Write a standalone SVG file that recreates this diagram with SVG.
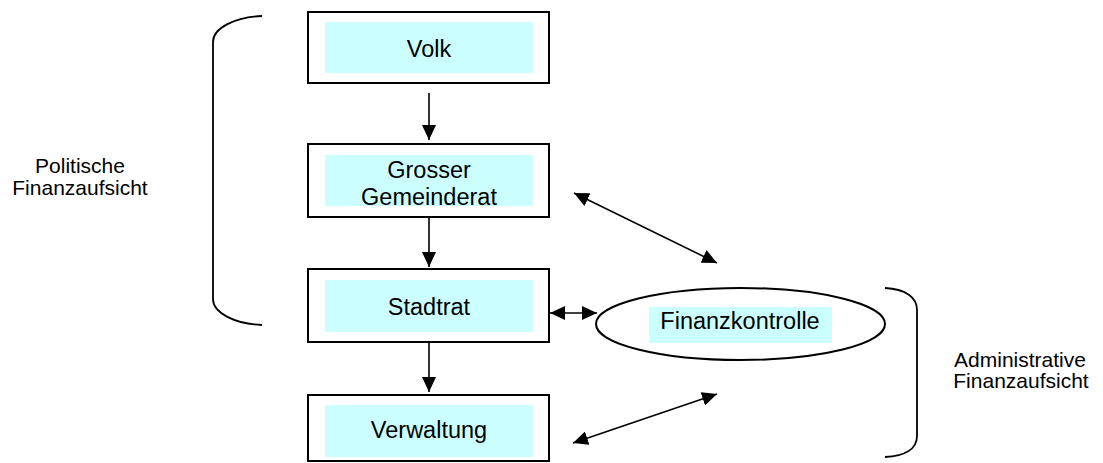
<svg xmlns="http://www.w3.org/2000/svg" width="1103" height="463" viewBox="0 0 1103 463">
<style>
.box{fill:#fff;stroke:#000;stroke-width:2}
.inner{fill:#ccffff;stroke:none}
.t{font-family:"Liberation Sans",Arial,sans-serif;font-size:23.5px;fill:#000;text-anchor:middle}
.s{font-family:"Liberation Sans",Arial,sans-serif;font-size:21px;fill:#000;text-anchor:middle}
.c{stroke:#000;stroke-width:1.6;fill:none}
.br{stroke:#000;stroke-width:1.8;fill:none}
</style>
<defs>
<marker id="ah" markerUnits="userSpaceOnUse" markerWidth="15" markerHeight="14" refX="15" refY="7" orient="auto-start-reverse" viewBox="0 0 15 14">
<path d="M0,0 L15,7 L0,14 z" fill="#000"/>
</marker>
</defs>
<g id="brackets">
<path class="br" d="M262,16 C235,17 213,28 213,42 V299 C213,313 235,324 262,325"/>
<path class="br" d="M885,288 C905,289 917,297 917,310 V436 C917,449 905,456 885,457"/>
</g>
<g id="label-politisch">
<text class="s" x="80" y="173">Politische</text>
<text class="s" x="80" y="195">Finanzaufsicht</text>
</g>
<g id="label-admin">
<text class="s" x="1020" y="367">Administrative</text>
<text class="s" x="1021" y="388">Finanzaufsicht</text>
</g>
<g id="volk">
<rect class="box" x="308" y="12" width="241" height="71"/>
<rect class="inner" x="325" y="22" width="208" height="51"/>
<text class="t" x="429" y="57">Volk</text>
</g>
<g id="grosser-gemeinderat">
<rect class="box" x="308" y="144" width="241" height="73"/>
<rect class="inner" x="325" y="155" width="208" height="51"/>
<text class="t" x="429" y="178">Grosser</text>
<text class="t" x="429" y="205">Gemeinderat</text>
</g>
<g id="stadtrat">
<rect class="box" x="308" y="269" width="241" height="73"/>
<rect class="inner" x="325" y="280" width="208" height="52"/>
<text class="t" x="429" y="315">Stadtrat</text>
</g>
<g id="verwaltung">
<rect class="box" x="308" y="395" width="241" height="66"/>
<rect class="inner" x="325" y="405" width="208" height="52"/>
<text class="t" x="429" y="438">Verwaltung</text>
</g>
<g id="finanzkontrolle">
<ellipse class="box" cx="740.5" cy="324" rx="144.5" ry="36"/>
<rect class="inner" x="649" y="307" width="183" height="36"/>
<text class="t" x="740" y="329">Finanzkontrolle</text>
</g>
<g id="connectors">
<line class="c" x1="429" y1="93" x2="429" y2="140" marker-end="url(#ah)"/>
<line class="c" x1="429" y1="218" x2="429" y2="267" marker-end="url(#ah)"/>
<line class="c" x1="429" y1="343" x2="429" y2="392" marker-end="url(#ah)"/>
<line class="c" x1="550" y1="313" x2="597" y2="313" marker-start="url(#ah)" marker-end="url(#ah)"/>
<line class="c" x1="574" y1="193" x2="717" y2="263" marker-start="url(#ah)" marker-end="url(#ah)"/>
<line class="c" x1="573" y1="443" x2="717" y2="394" marker-start="url(#ah)" marker-end="url(#ah)"/>
</g>
</svg>
